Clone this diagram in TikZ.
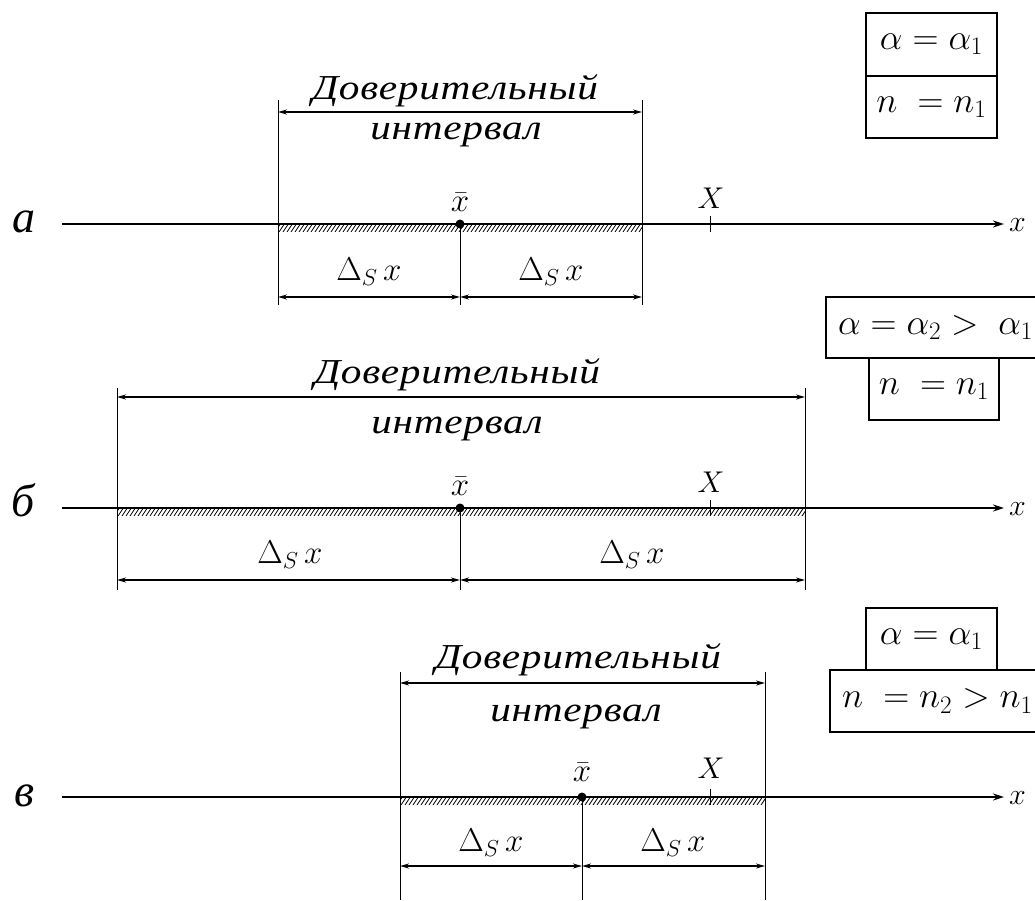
\RequirePackage{fix-cm}
\documentclass[tikz,border=0pt]{standalone}
\usepackage{fontspec}
\newfontfamily\cyrtext{Liberation Serif}[FakeStretch=1.18, LetterSpace=2]
\newfontfamily\cyrserif{Liberation Serif}
\usetikzlibrary{arrows.meta}
\begin{document}
\begin{tikzpicture}[x=1pt,y=-1pt,
  every node/.style={inner sep=0pt, outer sep=0pt},
  cyrtxt/.style={font=\fontsize{35}{38}\selectfont\cyrtext\itshape, anchor=base},
  mathlbl/.style={font=\fontsize{33}{36}\selectfont},
  smallmath/.style={font=\fontsize{30}{34}\selectfont},
  panellbl/.style={font=\fontsize{46}{50}\selectfont\cyrserif\itshape, anchor=base},
  axisline/.style={line width=1.6pt, -{Stealth[length=11pt,width=7pt]}},
  extline/.style={line width=1pt},
  dimarrow/.style={line width=1.4pt, {Stealth[length=9pt,width=5pt]}-{Stealth[length=9pt,width=5pt]}},
  condbox/.style={draw, line width=1.2pt, font=\fontsize{36}{40}\selectfont, inner sep=0pt},
  hatchline/.style={line width=0.8pt},
  ]
\clip (0,0) rectangle (1035,900);

% panels: name / axis y / left / centre / right / ext top / ext bottom / top arrow y / bottom arrow y
\foreach \p/\ay/\L/\C/\R/\et/\eb/\ta/\ba in
  {a/224/278/460/642/100/305/112/297,
   b/508/117/460/805/388/590/397/580,
   c/797/400/582/765/672/900/683/866}{
  \coordinate (\p As) at (62,\ay);
  \coordinate (\p Ae) at (1004,\ay);
  \coordinate (\p Lt) at (\L,\et);
  \coordinate (\p Lb) at (\L,\eb);
  \coordinate (\p Rt) at (\R,\et);
  \coordinate (\p Rb) at (\R,\eb);
  \coordinate (\p C) at (\C,\ay);
  \coordinate (\p Cb) at (\C,\eb);
  \coordinate (\p TL) at (\L,\ta);
  \coordinate (\p TR) at (\R,\ta);
  \coordinate (\p BL) at (\L,\ba);
  \coordinate (\p BC) at (\C,\ba);
  \coordinate (\p BR) at (\R,\ba);
  \coordinate (\p Xt) at (710,\ay-8);
  \coordinate (\p Xb) at (710,\ay+8);
  % hatching under the axis
  \begin{scope}
    \clip (\L,\ay) rectangle (\R,\ay+7);
    \foreach \i in {\L,...,\R}{
      \pgfmathtruncatemacro\rem{mod(\i-\L,4)}
      \ifnum\rem=0 \draw[hatchline] ({\i-3},{\ay+8}) -- ({\i+3},{\ay-1}); \fi
    }
  \end{scope}
  \draw[axisline] (\p As) -- (\p Ae);
  \node[smallmath, anchor=base west] (\p ax) at (1009,\ay+7) {$x$};
  \draw[extline] (\p Lt) -- (\p Lb);
  \draw[extline] (\p Rt) -- (\p Rb);
  \draw[extline] (\p C) -- (\p Cb);
  \draw[extline] (\p Xt) -- (\p Xb);
  \draw[dimarrow] (\p TL) -- (\p TR);
  \draw[dimarrow] (\p BL) -- (\p BC);
  \draw[dimarrow] (\p BC) -- (\p BR);
  \fill (\p C) circle (4.5pt);
}

% panel labels
\node[panellbl] (la) at (24,232) {а};
\node[panellbl] (lb) at (23,516) {б};
\node[panellbl] (lc) at (24,806) {в};

% texts, panel a
\node[cyrtxt] (ta1) at (455,99) {Доверительный};
\node[cyrtxt] (ta2) at (456,139) {интервал};
\node[mathlbl, anchor=base] (xa) at (460,211) {$\bar{x}$};
\node[smallmath, anchor=base] (Xa) at (711,208) {$X$};
\node[mathlbl] (da1) at (369,272) {$\Delta_S\, x$};
\node[mathlbl] (da2) at (551,272) {$\Delta_S\, x$};
\node[condbox, minimum width=131pt, minimum height=63pt] (ba1) at (931.5,44.5) {$\alpha=\alpha_1$};
\node[condbox, minimum width=131pt, minimum height=62pt] (ba2) at (931.5,107) {$n\;=n_1$};

% texts, panel b
\node[cyrtxt] (tb1) at (457,383) {Доверительный};
\node[cyrtxt] (tb2) at (457,433) {интервал};
\node[mathlbl, anchor=base] (xb) at (460,495) {$\bar{x}$};
\node[smallmath, anchor=base] (Xb) at (711,492) {$X$};
\node[mathlbl] (db1) at (290,555) {$\Delta_S\, x$};
\node[mathlbl] (db2) at (632,555) {$\Delta_S\, x$};
\node[condbox, minimum width=219pt, minimum height=61pt] (bb1) at (935.5,327.5) {$\alpha=\alpha_2>\;\alpha_1$};
\node[condbox, minimum width=130pt, minimum height=62pt] (bb2) at (934,389) {$n\;=n_1$};

% texts, panel c
\node[cyrtxt] (tc1) at (578,668) {Доверительный};
\node[cyrtxt] (tc2) at (576,721) {интервал};
\node[mathlbl, anchor=base] (xc) at (582,781) {$\bar{x}$};
\node[smallmath, anchor=base] (Xc) at (711,778) {$X$};
\node[mathlbl] (dc1) at (491,843) {$\Delta_S\, x$};
\node[mathlbl] (dc2) at (673,843) {$\Delta_S\, x$};
\node[condbox, minimum width=131pt, minimum height=62pt] (bc1) at (931.5,639) {$\alpha=\alpha_1$};
\node[condbox, minimum width=215pt, minimum height=62pt] (bc2) at (937.5,701) {$n\;=n_2>n_1$};
\end{tikzpicture}
\end{document}
